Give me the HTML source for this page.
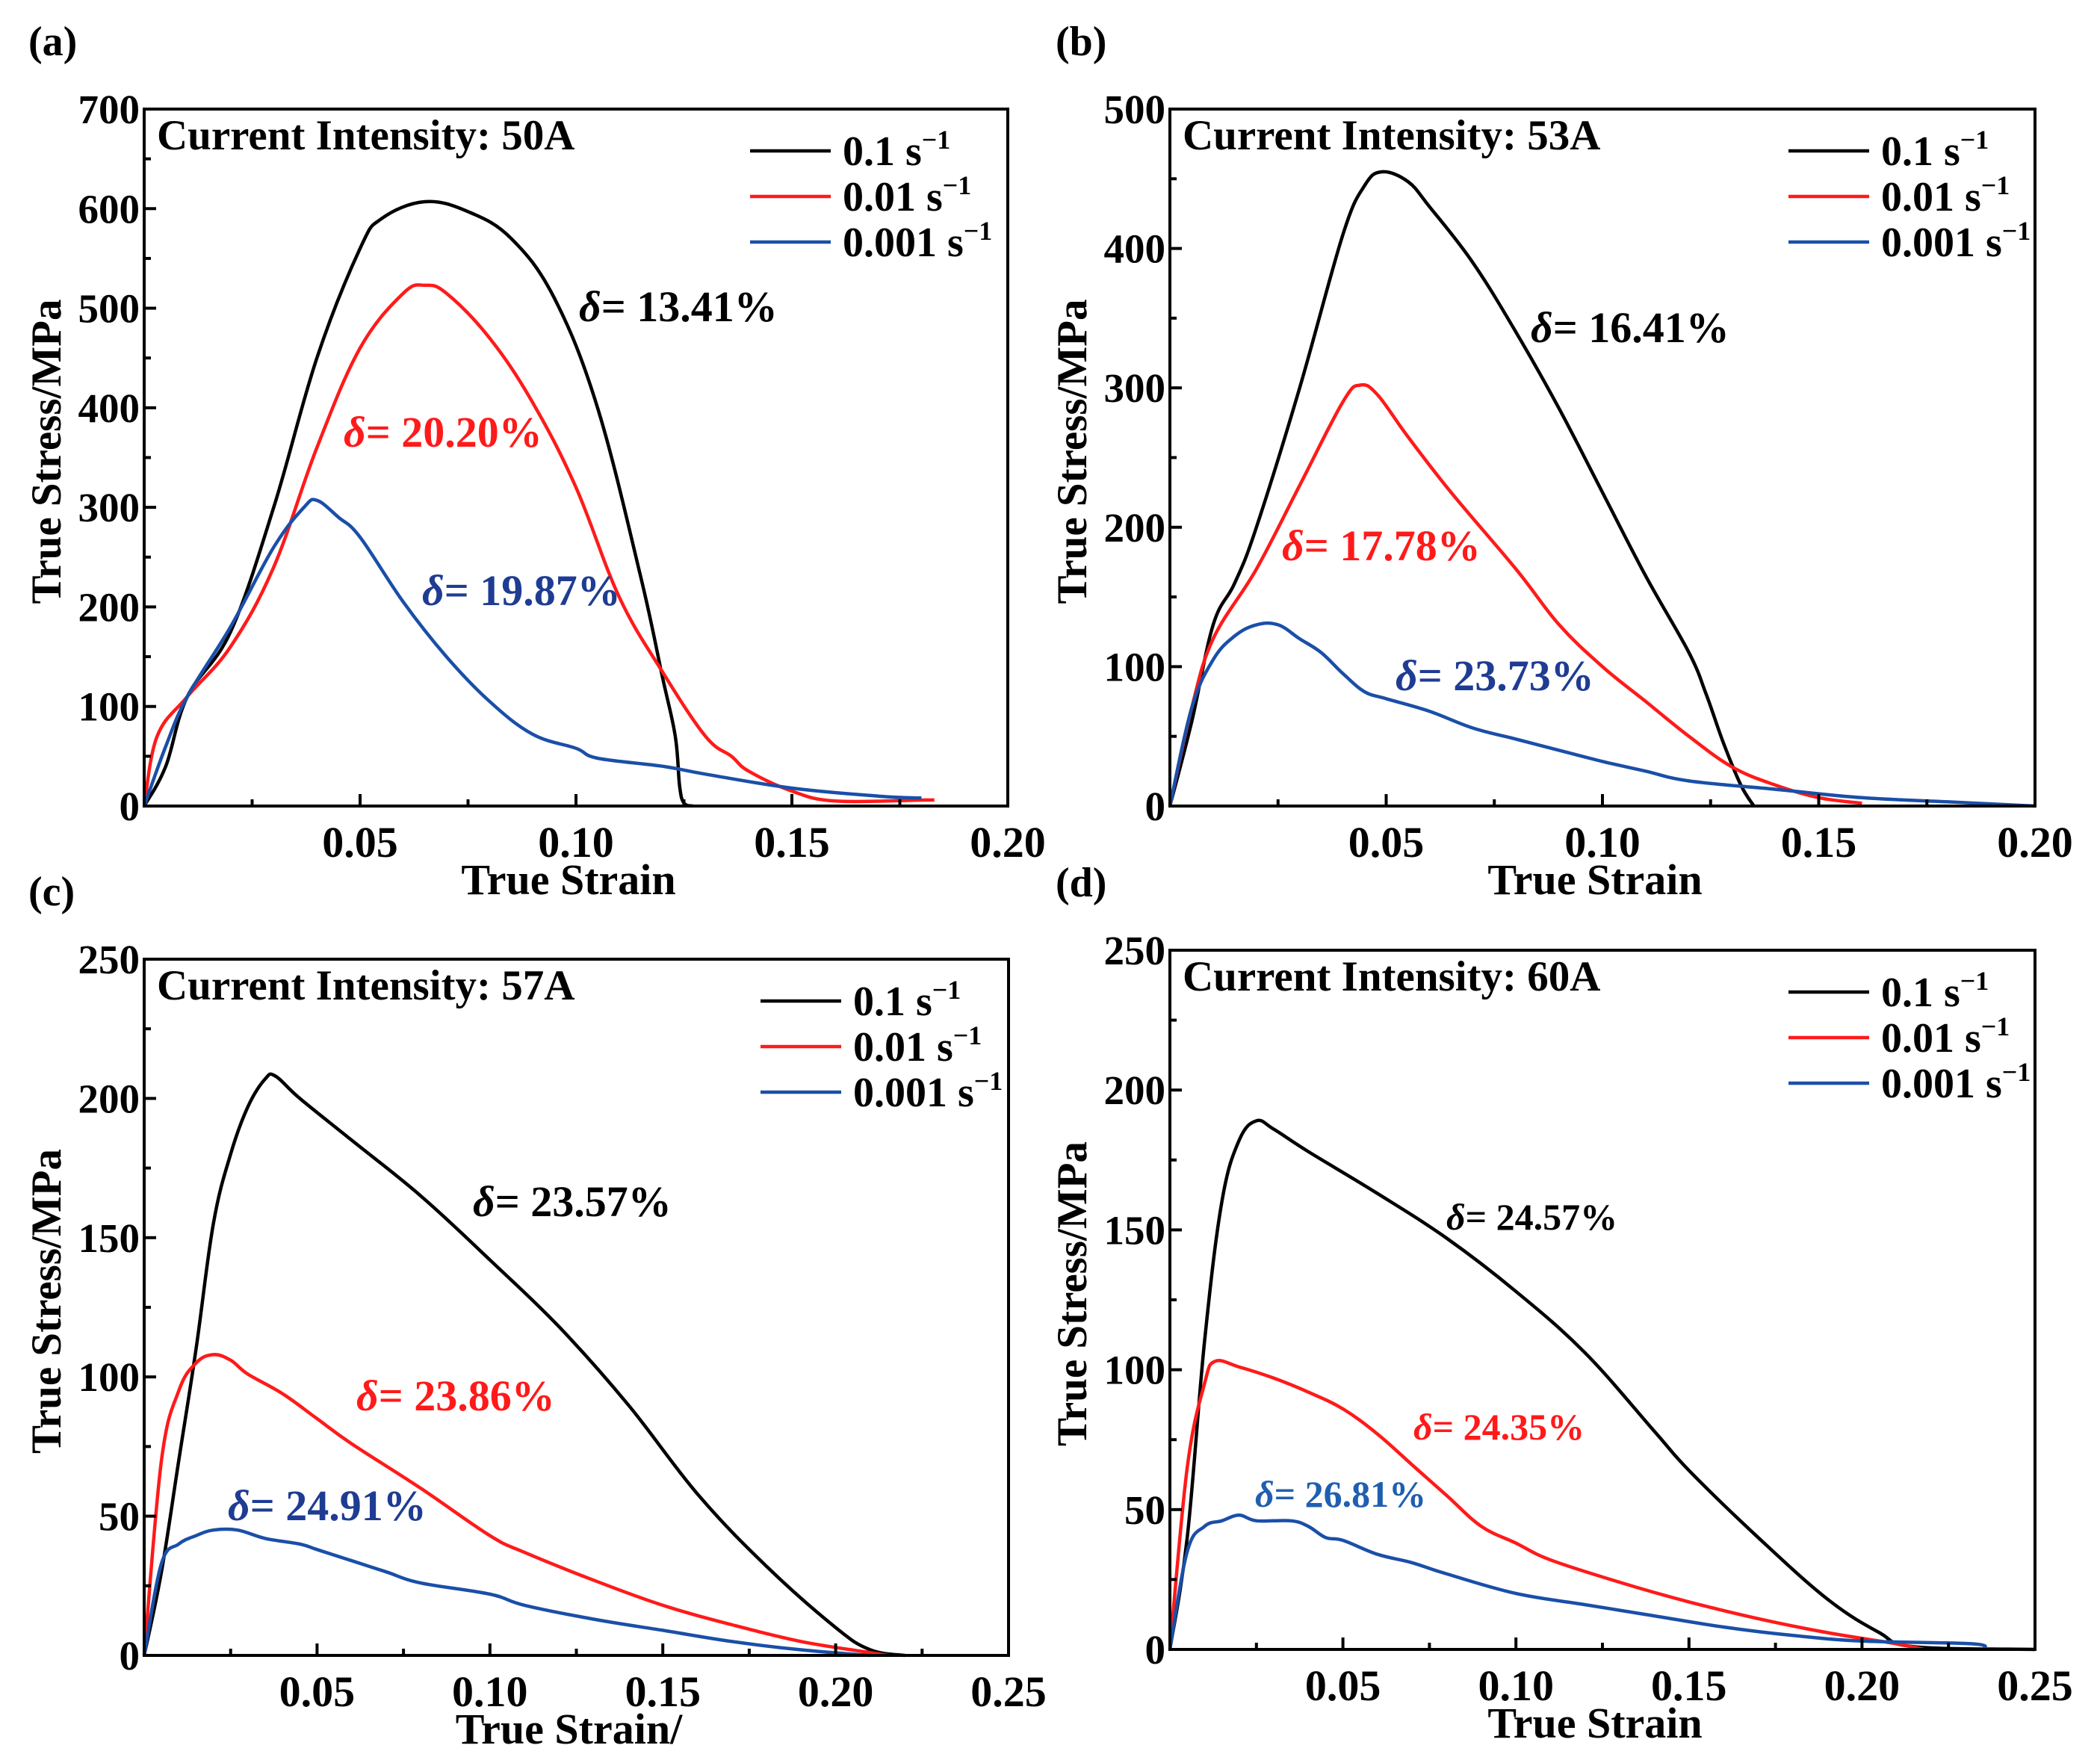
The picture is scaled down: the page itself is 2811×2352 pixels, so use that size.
<!DOCTYPE html>
<html><head><meta charset="utf-8"><style>
html,body{margin:0;padding:0;background:#fff;}
svg{display:block;font-family:"Liberation Serif",serif;font-weight:bold;}
</style></head><body>
<svg id="fig" width="2811" height="2352" viewBox="0 0 2811 2352" xmlns="http://www.w3.org/2000/svg"></svg>
<script>
// ---- Panel (a) data ----
const aBlackX=[0,0.005,0.01,0.02,0.03,0.04,0.05,0.055,0.065,0.075,0.085,0.095,0.105,0.115,0.12,0.123,0.124,0.125,0.127];
const aBlackY=[0,40,110,175,300,450,560,590,607,597,570,510,400,230,130,70,20,3,0];
const aRedX=[0,0.003,0.01,0.02,0.03,0.04,0.05,0.06,0.065,0.07,0.08,0.09,0.1,0.11,0.12,0.13,0.136,0.14,0.15,0.16,0.18,0.183];
const aRedY=[0,70,110,160,240,360,460,515,523,515,470,405,320,210,135,70,50,35,15,5,6,6];
const aBlueX=[0,0.005,0.01,0.02,0.03,0.037,0.04,0.045,0.05,0.06,0.07,0.08,0.09,0.1,0.105,0.12,0.13,0.15,0.17,0.18];
const aBlueY=[0,60,110,180,260,300,307,290,270,205,150,105,72,58,48,40,32,18,10,8];
// ---- Panel (b) data ----
const bBlackX=[0,0.005,0.01,0.015,0.02,0.03,0.04,0.045,0.049,0.055,0.06,0.07,0.08,0.09,0.1,0.11,0.12,0.124,0.128,0.132,0.135];
const bBlackY=[0,60,130,160,200,300,410,445,455,448,430,390,340,285,225,165,110,80,45,15,0];
const bRedX=[0,0.005,0.01,0.02,0.03,0.04,0.044,0.048,0.055,0.065,0.08,0.09,0.1,0.11,0.12,0.13,0.14,0.15,0.16];
const bRedY=[0,70,120,170,230,290,302,295,265,225,170,130,100,75,50,28,15,6,2];
const bBlueX=[0,0.005,0.01,0.015,0.02,0.025,0.03,0.035,0.04,0.045,0.05,0.06,0.07,0.08,0.09,0.1,0.11,0.12,0.14,0.16,0.18,0.2];
const bBlueY=[0,70,105,122,130,130,120,110,95,82,77,68,56,48,40,32,25,18,12,6,3,0];
// ---- Panel (c) data ----
const cBlackX=[0,0.005,0.01,0.015,0.02,0.025,0.03,0.035,0.038,0.045,0.06,0.08,0.1,0.12,0.14,0.16,0.18,0.2,0.21,0.22];
const cBlackY=[0,30,70,110,155,180,197,207,208,200,185,165,142,118,90,58,32,10,2,0];
const cRedX=[0,0.005,0.01,0.015,0.02,0.025,0.03,0.04,0.05,0.06,0.08,0.1,0.11,0.13,0.15,0.17,0.19,0.21,0.215];
const cRedY=[0,70,95,105,108,106,101,94,85,76,60,43,37,27,18,11,5,1,0];
const cBlueX=[0,0.005,0.01,0.015,0.02,0.027,0.035,0.045,0.05,0.06,0.07,0.08,0.1,0.11,0.13,0.15,0.17,0.19,0.21];
const cBlueY=[0,33,40,43,45,45,42,40,38,34,30,26,22,18,13,9,5,2,0];
// ---- Panel (d) data ----
const dBlackX=[0,0.005,0.01,0.015,0.02,0.025,0.03,0.04,0.06,0.08,0.1,0.12,0.14,0.15,0.17,0.19,0.205,0.215,0.25];
const dBlackY=[0,40,110,160,182,189,186,178,163,147,128,106,78,64,40,18,6,1,0];
const dRedX=[0,0.005,0.01,0.013,0.02,0.03,0.04,0.05,0.06,0.07,0.08,0.09,0.1,0.11,0.13,0.15,0.17,0.19,0.21,0.218];
const dRedY=[0,65,95,103,101,97,92,86,77,66,55,44,38,32,24,17,11,6,2,0];
const dBlueX=[0,0.005,0.01,0.015,0.02,0.025,0.035,0.04,0.045,0.05,0.06,0.07,0.08,0.1,0.12,0.14,0.16,0.18,0.2,0.232,0.235];
const dBlueY=[0,35,44,46,48,46,46,44,40,39,34,31,27,20,16,12,8,5,3,2,0];
// tick labels
const xTicksA=[0.05,0.10,0.15,0.20];
const xTicksC=[0.05,0.10,0.15,0.20,0.25];
const yTicksA=[0,100,200,300,400,500,600,700];
const yTicksB=[0,100,200,300,400,500];
const yTicksC=[0,50,100,150,200,250];

const NS="http://www.w3.org/2000/svg";
const fig=document.getElementById('fig');
function mk(tag,attrs,parent){const e=document.createElementNS(NS,tag);for(const k in attrs)e.setAttribute(k,attrs[k]);(parent||fig).appendChild(e);return e;}
function txt(s,attrs,parent){const e=mk('text',attrs,parent);e.textContent=s;return e;}
function smooth(pts){
  let d='M'+pts[0][0].toFixed(1)+','+pts[0][1].toFixed(1);
  for(let i=0;i<pts.length-1;i++){
    const p0=pts[Math.max(0,i-1)],p1=pts[i],p2=pts[i+1],p3=pts[Math.min(pts.length-1,i+2)];
    const t=0.18;
    const c1=[p1[0]+(p2[0]-p0[0])*t,p1[1]+(p2[1]-p0[1])*t];
    const c2=[p2[0]-(p3[0]-p1[0])*t,p2[1]-(p3[1]-p1[1])*t];
    d+='C'+c1[0].toFixed(1)+','+c1[1].toFixed(1)+' '+c2[0].toFixed(1)+','+c2[1].toFixed(1)+' '+p2[0].toFixed(1)+','+p2[1].toFixed(1);
  }
  return d;
}

const BLACK='#000',RED='#ff1a1a',BLUE='#1a4fa8';
const panels=[
 {id:'a',L:193,T:146,R:1349,B:1079,xmax:0.20,ymax:700,xt:xTicksA,yt:yTicksA,xminor:0.025,yminor:50,
  s:[[aBlackX,aBlackY,BLACK],[aRedX,aRedY,RED],[aBlueX,aBlueY,BLUE]],
  lab:'(a)',labX:38,title:'Current Intensity: 50A',xt_title:'True Strain',
  ann:[['13.41%',775,430,BLACK,58],['20.20%',460,598,RED,58],['19.87%',565,810,'#1f3c93',58]],legX:1004},
 {id:'b',L:1566,T:146,R:2724,B:1079,xmax:0.20,ymax:500,xt:xTicksA,yt:yTicksB,xminor:0.025,yminor:50,
  s:[[bBlackX,bBlackY,BLACK],[bRedX,bRedY,RED],[bBlueX,bBlueY,BLUE]],
  lab:'(b)',labX:1413,title:'Current Intensity: 53A',xt_title:'True Strain',
  ann:[['16.41%',2049,458,BLACK,58],['17.78%',1716,750,RED,58],['23.73%',1868,924,'#1f3c93',58]],legX:2394},
 {id:'c',L:193,T:1284,R:1350,B:2216,xmax:0.25,ymax:250,xt:xTicksC,yt:yTicksC,xminor:0.025,yminor:25,
  s:[[cBlackX,cBlackY,BLACK],[cRedX,cRedY,RED],[cBlueX,cBlueY,BLUE]],
  lab:'(c)',labX:38,title:'Current Intensity: 57A',xt_title:'True Strain/',
  ann:[['23.57%',633,1628,BLACK,58],['23.86%',477,1888,RED,58],['24.91%',305,2035,'#1f3c93',58]],legX:1018},
 {id:'d',L:1566,T:1272,R:2724,B:2208,xmax:0.25,ymax:250,xt:xTicksC,yt:yTicksC,xminor:0.025,yminor:25,
  s:[[dBlackX,dBlackY,BLACK],[dRedX,dRedY,RED],[dBlueX,dBlueY,BLUE]],
  lab:'(d)',labX:1413,title:'Current Intensity: 60A',xt_title:'True Strain',
  ann:[['24.57%',1936,1646,BLACK,50],['24.35%',1892,1927,RED,50],['26.81%',1680,2017,'#1f5fb0',50]],legX:2394}
];
const names=['0.1','0.01','0.001'];
panels.forEach(p=>{
  const g=mk('g',{});
  
  
  const sx=v=>p.L+v/p.xmax*(p.R-p.L);
  const sy=v=>p.B-v/p.ymax*(p.B-p.T);
  p.s.forEach((s,i)=>{
    const pts=s[0].map((x,j)=>[sx(x),sy(s[1][j])]);
    const path=mk('path',{d:smooth(pts),fill:'none',stroke:s[2],'stroke-width':4.5,'stroke-linejoin':'round'},g);
    
    
  });
  const fr=mk('rect',{x:p.L,y:p.T,width:p.R-p.L,height:p.B-p.T,fill:'none',stroke:'#000','stroke-width':4},g);
  
  
  for(let v=p.xminor;v<p.xmax-1e-9;v+=p.xminor){
    const major=Math.abs(v/0.05-Math.round(v/0.05))<1e-6;
    mk('line',{x1:sx(v),x2:sx(v),y1:p.B,y2:p.B-(major?16:9),stroke:'#000','stroke-width':4},g);
  }
  for(let v=p.yminor;v<p.ymax-1e-9;v+=p.yminor){
    const major=p.yt.some(t=>Math.abs(t-v)<1e-6);
    mk('line',{y1:sy(v),y2:sy(v),x1:p.L,x2:p.L+(major?16:9),stroke:'#000','stroke-width':4},g);
  }
  p.xt.forEach(v=>{const t=txt(v.toFixed(2),{x:sx(v),y:p.B+68,'text-anchor':'middle','font-size':58},g);
    });
  p.yt.forEach(v=>{const t=txt(String(v),{x:p.L-6,y:sy(v)+19,'text-anchor':'end','font-size':55},g);
    });
  const xt=txt(p.xt_title,{x:(p.L+p.R)/2-10,y:p.B+118,'text-anchor':'middle','font-size':58},g);
  
  const yx=p.L-112,yy=(p.T+p.B)/2-8;
  const yt=txt('True Stress/MPa',{x:yx,y:yy,'text-anchor':'middle','font-size':57,transform:`rotate(-90 ${yx} ${yy})`},g);
  
  const lb=txt(p.lab,{x:p.labX,y:p.T-72,'font-size':56},g);
  
  const ti=txt(p.title,{x:p.L+17,y:p.T+54,'font-size':57},g);
  
  p.s.forEach((s,i)=>{
    const yL=p.T+56+i*61;
    const ln=mk('line',{x1:p.legX,x2:p.legX+108,y1:yL,y2:yL,stroke:s[2],'stroke-width':4.5},g);
    
    const t=txt('',{x:p.legX+124,y:yL+19,'font-size':56},g);
    
    const a=mk('tspan',{},t);a.textContent=names[i]+' s';
    const b=mk('tspan',{dy:-22,'font-size':36},t);b.textContent='\u22121';
  });
  p.ann.forEach(a=>{
    const t=txt('',{x:a[1],y:a[2],'font-size':a[4],fill:a[3]},g);
    
    const d=mk('tspan',{'font-style':'italic'},t);d.textContent='\u03b4';
    const r=mk('tspan',{},t);r.textContent='= '+a[0];
  });
});
</script>
</body></html>
